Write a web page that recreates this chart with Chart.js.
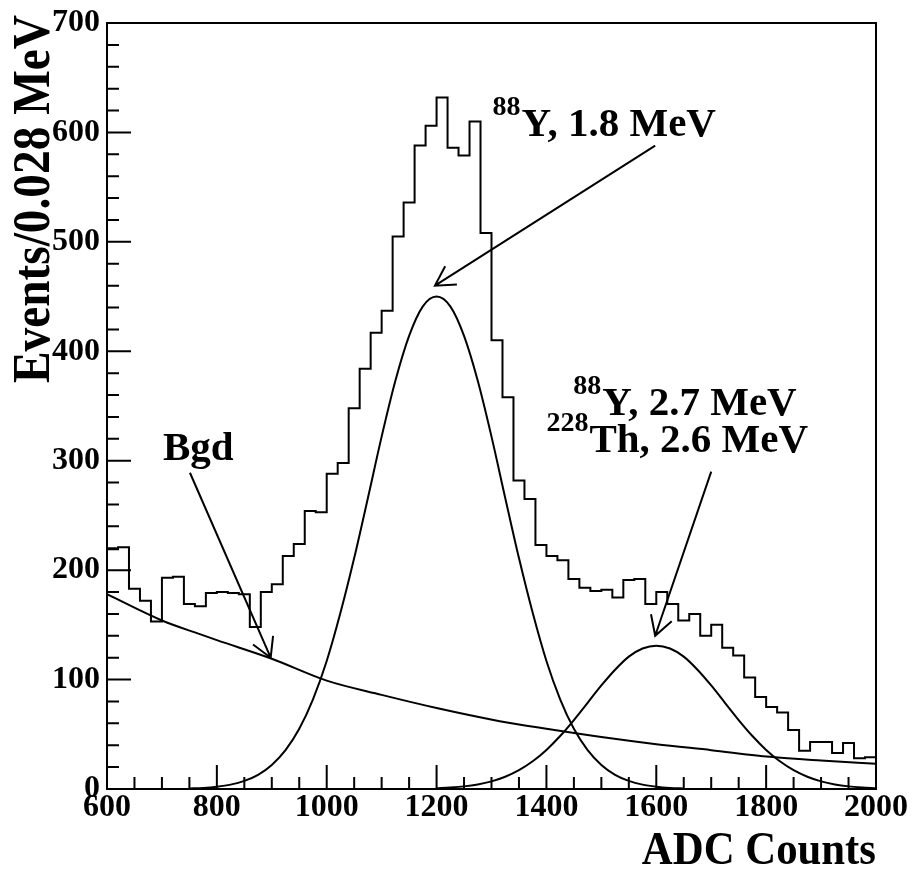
<!DOCTYPE html>
<html>
<head>
<meta charset="utf-8">
<script src="https://cdn.jsdelivr.net/npm/chart.js@4.4.1/dist/chart.umd.min.js"></script>
<style>
  html, body { margin:0; padding:0; background:#fff; }
  #wrap { width:914px; height:869px; }
</style>
</head>
<body>
<div id="wrap"><canvas id="c" width="914" height="869"></canvas></div>
<script>
// histogram: 20-ADC bins from 600 to 2000
const binStart = 600;
const binWidth = 20;
const counts = [
  219,221,183,172,153,193,194,169,167,179,180,179,178,148,180,187,213,224,254,253,
  288,298,348,384,417,437,505,536,588,606,632,586,579,610,508,410,358,282,265,223,
  213,209,192,184,181,182,175,191,192,169,180,169,154,160,140,150,129,122,102,84,
  75,70,54,35,43,43,33,42,28,29
];

// fitted components
const bgdX = [600,700,769,800,900,1000,1100,1200,1315,1400,1500,1600,1700,1807,1900,2000];
const bgdY = [178,154,141.5,136,119,99,86,74,62,55,47.5,41,35.5,29.4,26,23];

const peak1X = [750,775,800,825,850,875,900,925,950,975,1000,1025,1050,1075,1100,1125,1150,1175,1200,
                1225,1250,1275,1300,1325,1350,1375,1400,1425,1450,1475,1500,1525,1550,1575,1600,1625,1650];
const peak1Y = [0.5,1,2.1,4,7.4,13,22,35.5,55,82,117,161,211,266,322,373,414,441,450,
                441,414,373,322,266,211,161,117,82,55,35.5,22,13,7.4,4,2.1,1,0.5];

const peak2X = [1200,1225,1250,1275,1300,1325,1350,1375,1400,1425,1450,1475,1500,1525,1550,1575,1600,
                1625,1650,1675,1700,1725,1750,1775,1800,1825,1850,1875,1900,1925,1950,1975,2000];
const peak2Y = [0.7,1.35,2.4,4.2,7,11.2,17.2,25.3,35.7,48.4,63,78.8,94.6,109,121,128.4,131,
                128.4,121,109,94.6,78.8,63,48.4,35.7,25.3,17.2,11.2,7,4.2,2.4,1.35,0.7];

const xTickStep = 200, yTickStep = 100;
const xTitle = 'ADC Counts';
const yTitle = 'Events/0.028 MeV';

// annotations in data units
const arrows = [
  {from:[1598,588], to:[1197,460]},
  {from:[751,289], to:[898,120]},
  {from:[1700,290], to:[1598,140]}
];
const notes = [
  {sup:'88',  text:'Y, 1.8 MeV',  at:[1302,597]},
  {sup:'88',  text:'Y, 2.7 MeV',  at:[1449,341.5]},
  {sup:'228', text:'Th, 2.6 MeV', at:[1400,308]},
  {sup:'',    text:'Bgd',         at:[702,300.5]}
];

const SERIF = '"Liberation Serif", "Times New Roman", serif';

const histPts = counts.map((v,i) => ({x: binStart + i*binWidth, y: v}));
histPts.push({x: binStart + counts.length*binWidth, y: counts[counts.length-1]});
const toPts = (xs, ys) => xs.map((x,i) => ({x, y: ys[i]}));

function arrow(ctx, x1, y1, x2, y2){
  const ang = Math.atan2(y1-y2, x1-x2), len = 22, half = 0.52;
  ctx.beginPath();
  ctx.moveTo(x1,y1); ctx.lineTo(x2,y2);
  ctx.moveTo(x2 + len*Math.cos(ang-half), y2 + len*Math.sin(ang-half));
  ctx.lineTo(x2,y2);
  ctx.lineTo(x2 + len*Math.cos(ang+half), y2 + len*Math.sin(ang+half));
  ctx.stroke();
}

const decor = {
  id:'decor',
  afterDatasetsDraw(chart){
    const {ctx, chartArea:a, scales:{x,y}} = chart;
    ctx.save();
    ctx.strokeStyle = '#000'; ctx.fillStyle = '#000';
    ctx.lineWidth = 2;
    ctx.strokeRect(a.left, a.top, a.right-a.left, a.bottom-a.top);
    ctx.beginPath();
    for (let v = 600; v <= 2000; v += 50){
      const p = x.getPixelForValue(v), l = v % 200 === 0 ? 24 : 12;
      ctx.moveTo(p, a.bottom); ctx.lineTo(p, a.bottom - l);
    }
    for (let v = 0; v <= 700; v += 20){
      const p = y.getPixelForValue(v), l = v % 100 === 0 ? 24 : 12;
      ctx.moveTo(a.left, p); ctx.lineTo(a.left + l, p);
    }
    ctx.stroke();

    ctx.lineWidth = 2;
    arrows.forEach(r => arrow(ctx,
      x.getPixelForValue(r.from[0]), y.getPixelForValue(r.from[1]),
      x.getPixelForValue(r.to[0]), y.getPixelForValue(r.to[1])));

    ctx.textBaseline = 'alphabetic'; ctx.textAlign = 'left';
    notes.forEach(n => {
      let px = x.getPixelForValue(n.at[0]);
      const py = y.getPixelForValue(n.at[1]);
      if (n.sup){
        ctx.font = `bold 28px ${SERIF}`;
        ctx.fillText(n.sup, px, py - 21);
        px += ctx.measureText(n.sup).width + 1;
      }
      ctx.font = `bold 41px ${SERIF}`;
      ctx.fillText(n.text, px, py);
    });

    // axis titles
    ctx.font = `bold 52px ${SERIF}`;
    ctx.save();
    ctx.translate(36, 15);
    ctx.rotate(-Math.PI/2);
    ctx.scale(0.91, 1);
    ctx.textAlign = 'right'; ctx.textBaseline = 'middle';
    ctx.fillText(yTitle, 0, 0);
    ctx.restore();

    ctx.font = `bold 46px ${SERIF}`;
    ctx.save();
    ctx.translate(a.right, 864);
    ctx.scale(0.93, 1);
    ctx.textAlign = 'right'; ctx.textBaseline = 'alphabetic';
    ctx.fillText(xTitle, 0, 0);
    ctx.restore();
    ctx.restore();
  }
};

const line = (data, extra={}) => ({
  data, borderColor:'#000', borderWidth:2, pointRadius:0, fill:false, ...extra
});

const tickFont = {family:SERIF, size:32, weight:'bold', lineHeight:1};

new Chart(document.getElementById('c'), {
  type:'line',
  data:{
    datasets:[
      line(histPts, {stepped:'before'}),
      line(toPts(bgdX, bgdY), {cubicInterpolationMode:'monotone'}),
      line(toPts(peak1X, peak1Y), {cubicInterpolationMode:'monotone'}),
      line(toPts(peak2X, peak2Y), {cubicInterpolationMode:'monotone'})
    ]
  },
  options:{
    responsive:false,
    animation:false,
    layout:{padding:{left:0, right:38, top:20, bottom:0}},
    plugins:{legend:{display:false}, tooltip:{enabled:false}},
    scales:{
      x:{
        type:'linear', min:600, max:2000,
        grid:{display:false, drawTicks:false}, border:{display:false},
        ticks:{stepSize:xTickStep, color:'#000', padding:3, maxRotation:0, autoSkip:false,
               font:tickFont, callback: v => String(v)},
        afterFit: s => { s.height = 80; }
      },
      y:{
        type:'linear', min:0, max:700,
        grid:{display:false, drawTicks:false}, border:{display:false},
        ticks:{stepSize:yTickStep, color:'#000', padding:7,
               font:tickFont, callback: v => String(v)},
        afterFit: s => { s.width = 107; }
      }
    }
  },
  plugins:[decor]
});
</script>
</body>
</html>
